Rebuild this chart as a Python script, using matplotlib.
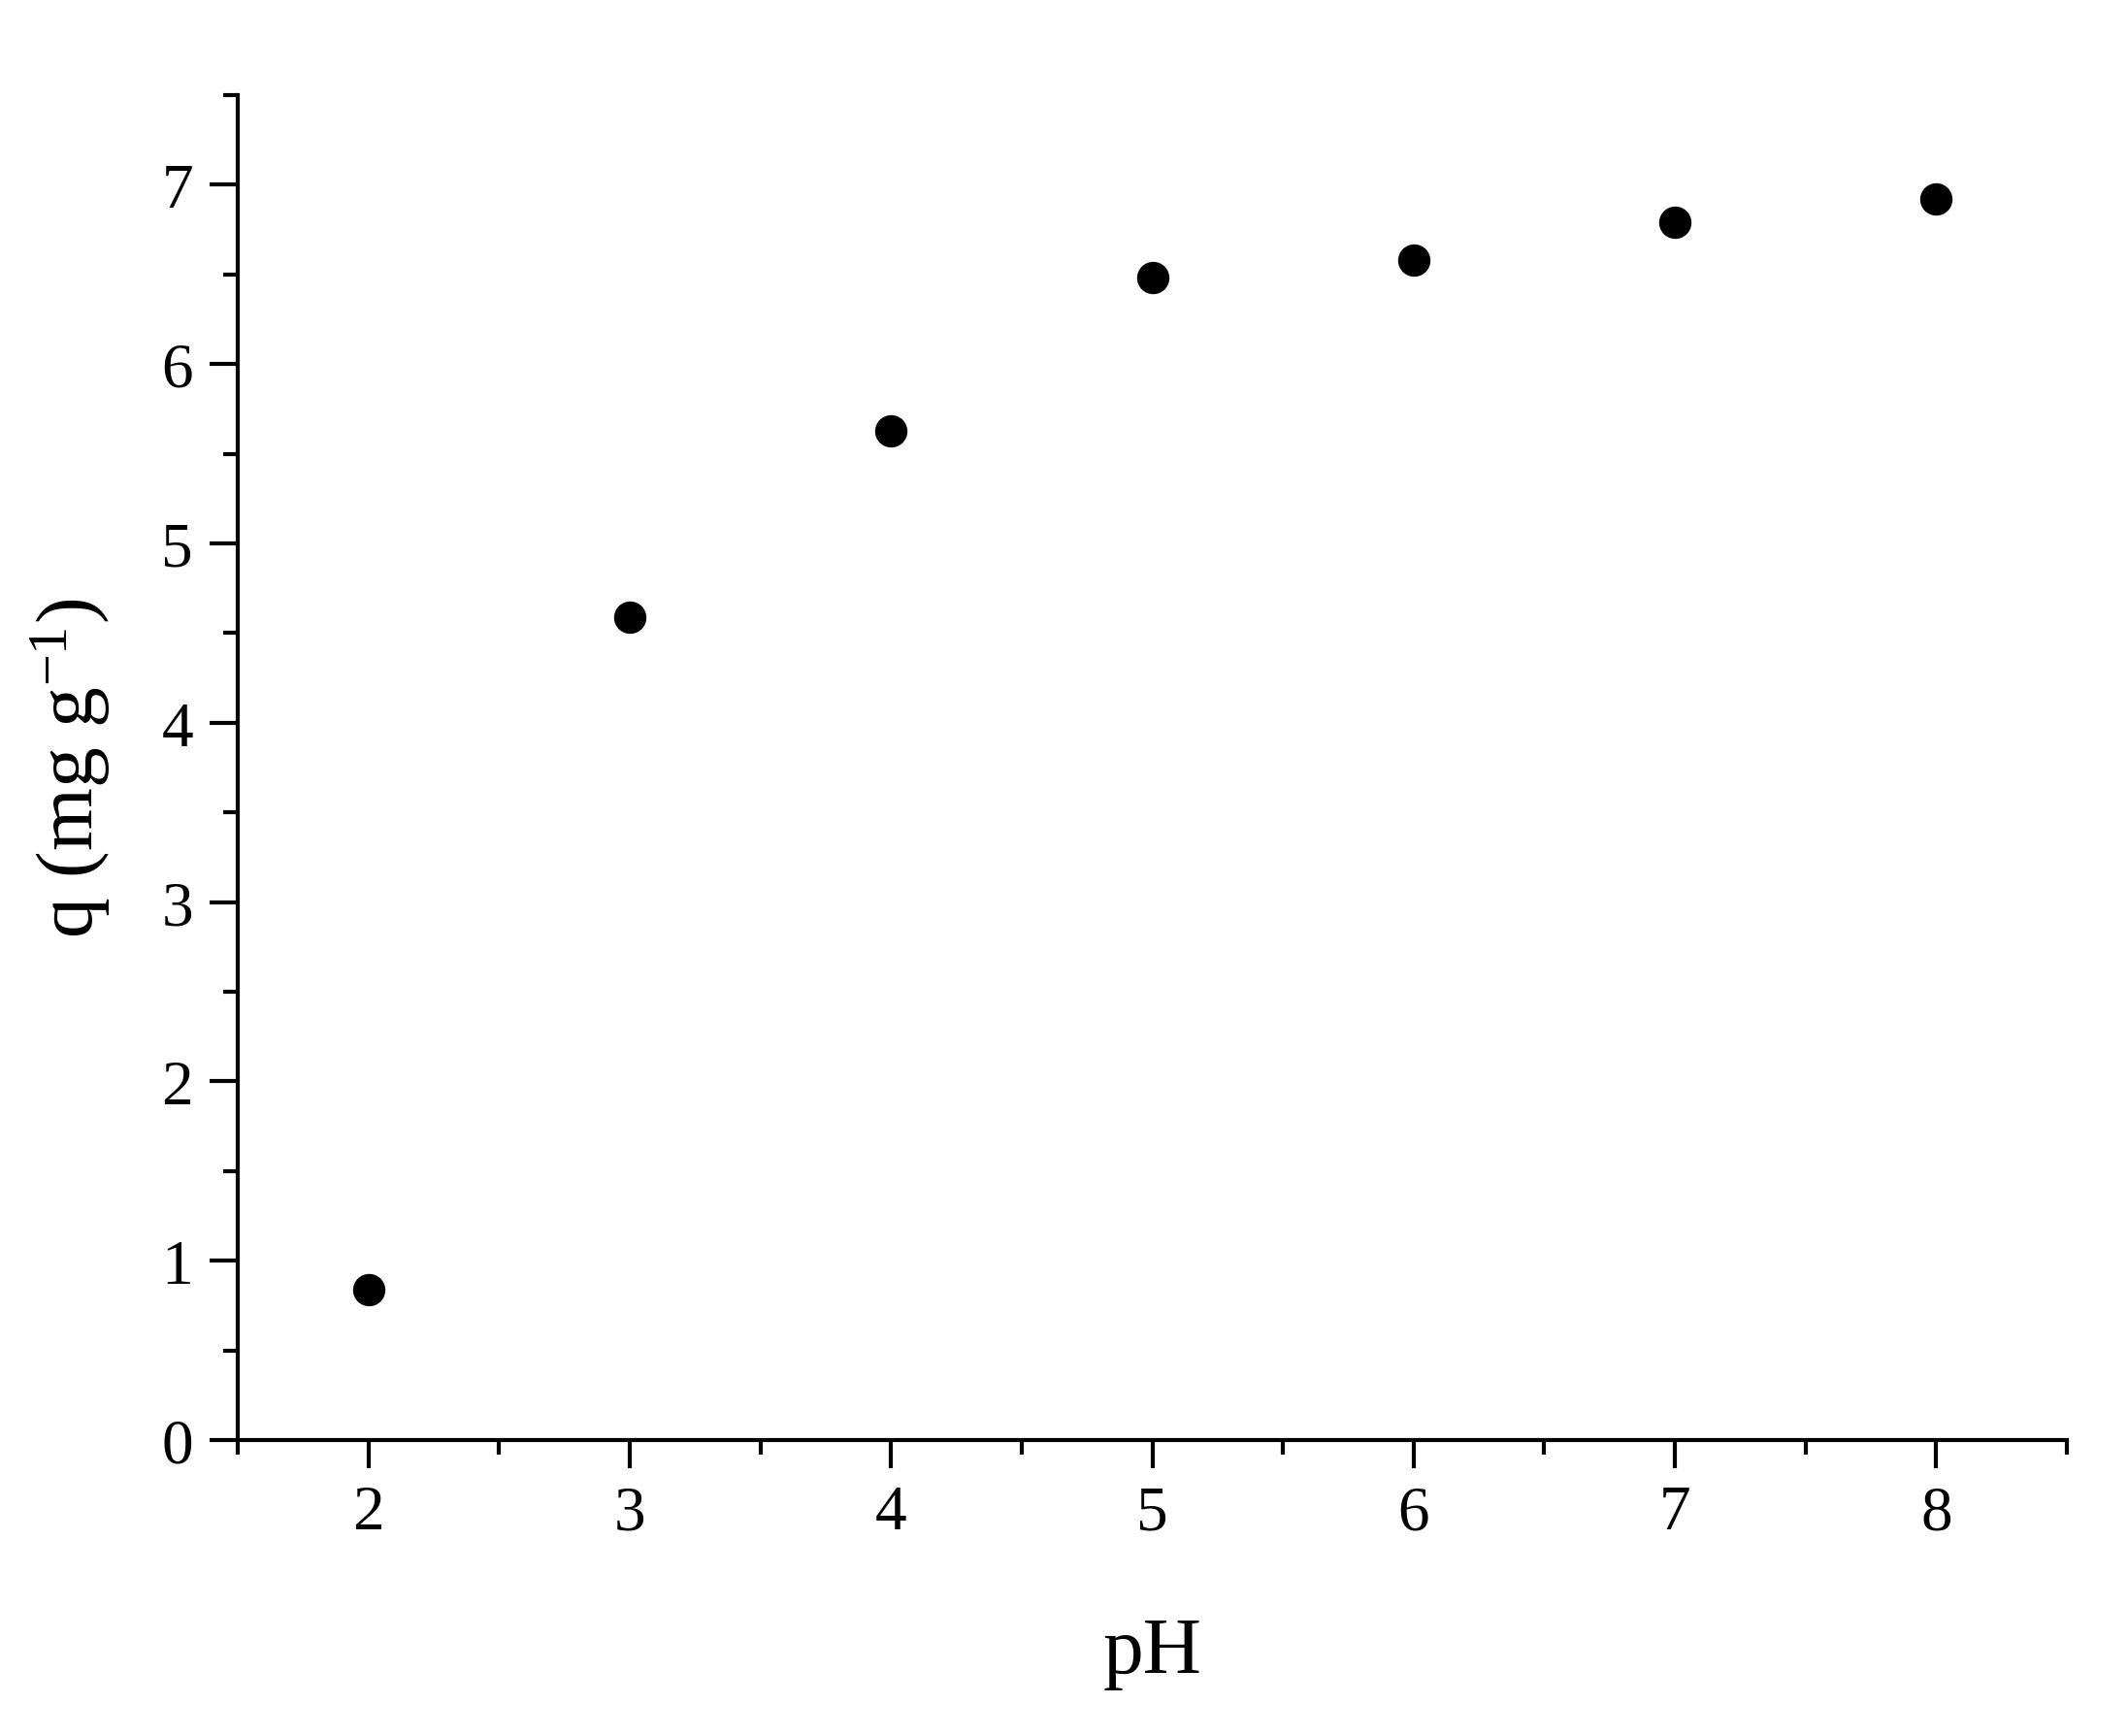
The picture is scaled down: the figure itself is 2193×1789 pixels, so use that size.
import matplotlib
matplotlib.use("Agg")
import matplotlib.pyplot as plt
from matplotlib.ticker import MultipleLocator

# data
pH = [2, 3, 4, 5, 6, 7, 8]
q = [0.84, 4.59, 5.63, 6.48, 6.58, 6.79, 6.92]

plt.rcParams['font.family'] = 'Liberation Serif'
plt.rcParams['mathtext.fontset'] = 'custom'
plt.rcParams['mathtext.rm'] = 'Liberation Serif'
plt.rcParams['mathtext.it'] = 'Liberation Serif:italic'

fig = plt.figure(figsize=(21.93, 17.90), dpi=100)
ax = fig.add_axes([0.1117, 0.1704, 0.9713 - 0.1117, 0.9447 - 0.1704])

ax.plot(pH, q, 'o', color='black', markersize=23, clip_on=False)

ax.set_xlim(1.5, 8.5)
ax.set_ylim(0, 7.5)
ax.xaxis.set_major_locator(MultipleLocator(1))
ax.xaxis.set_minor_locator(MultipleLocator(0.5))
ax.yaxis.set_major_locator(MultipleLocator(1))
ax.yaxis.set_minor_locator(MultipleLocator(0.5))

for s in ['top', 'right']:
    ax.spines[s].set_visible(False)
for s in ['left', 'bottom']:
    ax.spines[s].set_linewidth(3)

ax.tick_params(which='major', direction='out', length=21, width=3, labelsize=47, pad=12)
ax.tick_params(which='minor', direction='out', length=11, width=3)

ax.set_xlabel('pH', fontsize=60, labelpad=55)
ax.set_ylabel('q (mg g$^{-1}$)', fontsize=60, labelpad=36)

fig.savefig('out.png', dpi=100)
